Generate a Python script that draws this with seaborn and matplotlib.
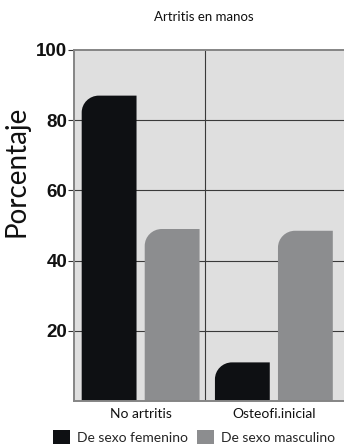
import numpy as np
import pandas as pd
import matplotlib
matplotlib.use("Agg")
import matplotlib.pyplot as plt
from matplotlib.path import Path
from matplotlib.patches import PathPatch, Patch
import seaborn as sns

# Data
categories = ["No artritis", "Osteofi.inicial"]
series_names = ["De sexo femenino", "De sexo masculino"]
female = [87, 11]
male = [49, 48.5]
yticks = [20, 40, 60, 80, 100]

colors = ["#0e1013", "#8c8d8f"]

df = pd.DataFrame({
    "cat": categories * 2,
    "sexo": [series_names[0]] * len(categories) + [series_names[1]] * len(categories),
    "pct": female + male,
})

sns.set_theme(style="white")
plt.rcParams["font.family"] = ["Lato", "DejaVu Sans"]

W, H = 344, 447
fig = plt.figure(figsize=(W / 100, H / 100), dpi=100)
ax_w = 1 - 74 / W
ax = fig.add_axes([74 / W, 1 - 401 / H, ax_w, (401 - 50) / H])
ax.set_facecolor("#dfdfdf")

sns.barplot(data=df, x="cat", y="pct", hue="sexo", order=categories,
            hue_order=series_names, palette=colors, width=0.946, gap=0.13,
            saturation=1, legend=False, ax=ax, edgecolor="none", linewidth=0)

ax.set_ylim(0, 100)
ax.set_xlim(-0.5, (W - 141) / 133)

# Replace plain bars with bars rounded at the top-left corner
rx, ry = 0.128, 4.8
k = 0.5523
for bar in list(ax.patches):
    x0, y0 = bar.get_x(), bar.get_y()
    w, h = bar.get_width(), bar.get_height()
    y1 = y0 + h
    r_y = min(ry, h)
    verts = [
        (x0, y0), (x0 + w, y0), (x0 + w, y1), (x0 + rx, y1),
        (x0 + rx * (1 - k), y1), (x0, y1 - r_y * (1 - k)), (x0, y1 - r_y),
        (x0, y0), (x0, y0),
    ]
    codes = [Path.MOVETO, Path.LINETO, Path.LINETO, Path.LINETO,
             Path.CURVE4, Path.CURVE4, Path.CURVE4, Path.LINETO, Path.CLOSEPOLY]
    fc = bar.get_facecolor()
    bar.remove()
    ax.add_patch(PathPatch(Path(verts, codes), facecolor=fc, edgecolor="none", zorder=2))

# Grid lines
for yv in yticks[:-1]:
    ax.axhline(yv, color="#3a3a3a", lw=0.8, zorder=1)
ax.axvline(0.48, color="#3a3a3a", lw=0.8, zorder=1)

ax.set_yticks(yticks)
ax.set_yticklabels([str(v) for v in yticks], fontweight="bold",
                   family="Liberation Sans", fontsize=13.5, color="#111111")
ax.tick_params(axis="y", length=4, width=0.8, color="#333333", pad=1, left=True)
ax.tick_params(axis="x", length=0, pad=5)
ax.set_xticks(range(len(categories)))
ax.set_xticklabels(categories, fontsize=10, color="#111111")

for side in ["left", "bottom", "top"]:
    ax.spines[side].set_color("#858585")
    ax.spines[side].set_linewidth(1.4)
ax.spines["right"].set_visible(False)

ax.set_xlabel("")
ax.set_ylabel("Porcentaje", fontsize=20, color="#111111")
ax.yaxis.set_label_coords((30 - 74) / (ax_w * W), (401 - 171) / 351)

fig.text(204 / W, 1 - 17 / H, "Artritis en manos", ha="center", va="center",
         fontsize=9.5, color="#111111")

handles = [Patch(facecolor=c, edgecolor="none") for c in colors]
fig.legend(handles, series_names, loc="center left", bbox_to_anchor=(53 / W, 1 - 437 / H),
           ncol=2, frameon=False, fontsize=10, handlelength=1.25, handleheight=1.25,
           handletextpad=0.5, columnspacing=0.6, borderpad=0, borderaxespad=0)

fig.savefig("out.png", dpi=100)
